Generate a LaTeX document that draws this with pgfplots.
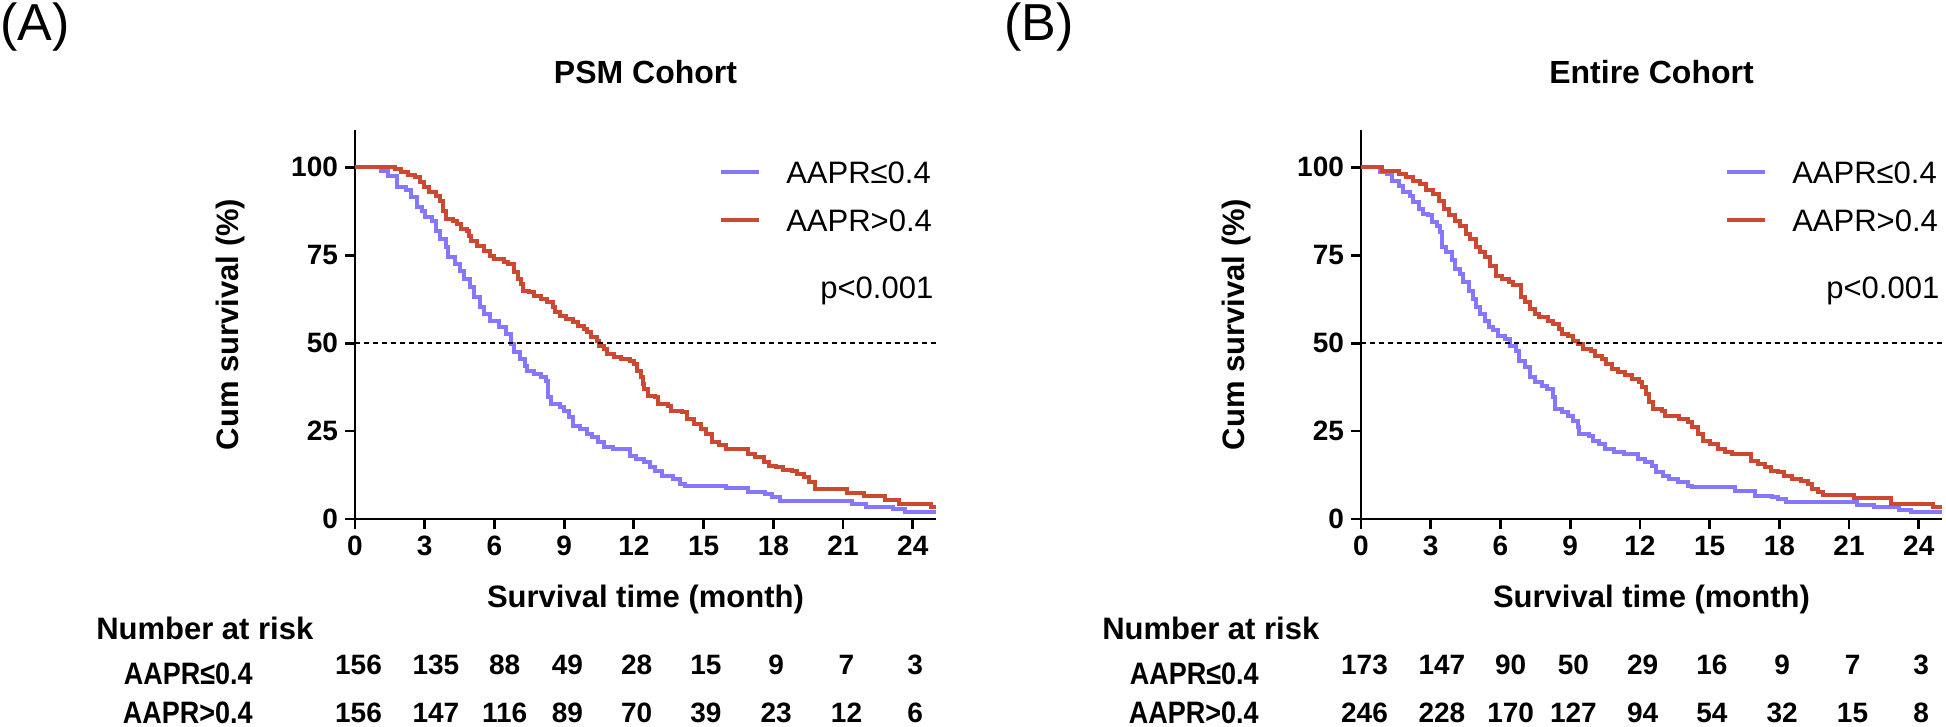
\documentclass[border=0pt]{standalone}
\usepackage{fontspec}
\setmainfont{Liberation Sans}
\usepackage{graphicx}
\usepackage{pgfplots}
\pgfplotsset{compat=1.18}
\definecolor{cblue}{RGB}{133,119,255}
\definecolor{cred}{RGB}{205,72,48}
\pgfplotsset{
  kmaxis/.style={
    scale only axis, width=290.5pt, height=194.5pt,
    xmin=0, xmax=25, ymin=0, ymax=110.6,
    axis x line*=bottom, axis y line*=left,
    axis line style={line width=1.4pt, -},
    xtick={0,3,...,24}, ytick={0,25,50,75,100},
    tick align=outside, major tick length=5pt,
    every tick/.style={line width=1.4pt, black},
    tick label style={font=\fontsize{14}{16}\selectfont\bfseries},
    /pgf/number format/assume math mode=true,
    clip=false,
    every axis title shift=0pt,
    title style={font=\fontsize{16}{19}\selectfont\bfseries, at={(axis description cs:0.5,1.149)}, anchor=center},
    xlabel style={font=\fontsize{15.5}{18}\selectfont\bfseries, at={(axis description cs:0.5,-0.2057)}, anchor=center},
    ylabel style={font=\fontsize{15.5}{18}\selectfont\bfseries, at={(axis description cs:-0.215,0.5)}, anchor=center},
    xlabel={Survival time (month)}, ylabel={Cum survival (\%)},
    legend style={at={(axis description cs:0.627,0.924)}, anchor=north west, draw=none, fill=none,
      inner sep=0pt, outer sep=0pt, font=\fontsize{15.5}{18}\selectfont, row sep=10pt,
      nodes={inner sep=0pt, text height=12pt, text depth=2pt},
      /tikz/every odd column/.append style={column sep=12.5pt}},
    legend cell align=left,
    legend image code/.code={\draw[#1, line width=2pt] (0pt,0.6pt) -- (19pt,0.6pt);},
  },
  risk/.style={draw=none, mark=none, forget plot, nodes near coords, point meta=explicit symbolic,
    every node near coord/.append style={anchor=center, text=black, inner sep=0pt, font=\fontsize{14}{16}\selectfont\bfseries}},
  kmline/.style={const plot, line width=2pt},
}
\newcommand{\risklabels}{%
  \node[anchor=west, inner sep=0pt, font=\fontsize{15.5}{18}\selectfont\bfseries] at (axis cs:-11.15,-31.0) {Number at risk};
  \node[anchor=east, inner sep=0pt, font=\fontsize{15.5}{18}\selectfont\bfseries] at (axis cs:-4.39,-44.1) {\scalebox{0.87}[1]{AAPR≤0.4}};
  \node[anchor=east, inner sep=0pt, font=\fontsize{15.5}{18}\selectfont\bfseries] at (axis cs:-4.39,-55.2) {\scalebox{0.87}[1]{AAPR>0.4}};
  \node[anchor=base east, inner sep=0pt, font=\fontsize{15.5}{18}\selectfont] at (axis cs:24.9,62.7) {p<0.001};
}
\begin{document}
\begin{tikzpicture}
\useasboundingbox (0pt,0pt) rectangle (973pt,363.5pt);
\node[anchor=north west, inner sep=0pt, font=\fontsize{26}{30}\selectfont] at (0pt,362.5pt) {(A)};
\node[anchor=north west, inner sep=0pt, font=\fontsize{26}{30}\selectfont] at (502pt,362.5pt) {(B)};

% ---------------- Panel A ----------------
\begin{axis}[kmaxis, at={(177.5pt,104pt)}, anchor=south west, title={PSM Cohort}]
\addplot[kmline, cblue] coordinates {
(0,100)(0.8,100)(1.1,99)(1.4,97.6)(1.8,94.3)(2.2,93.4)(2.4,91.5)(2.65,88.6)(2.9,87.7)(3.0,85.8)(3.3,84.8)(3.5,82)(3.65,79.6)(3.9,77.3)(4.0,74.4)(4.3,72.5)(4.5,70.6)(4.7,68.2)(4.95,65.9)(5.1,63)(5.4,60.2)(5.55,58.3)(5.8,56.4)(6.2,54.5)(6.5,52.6)(6.7,49.8)(6.85,47.4)(7.1,45.5)(7.3,43.6)(7.4,42.2)(7.7,41.2)(8.0,40.3)(8.2,39.3)(8.3,34.6)(8.45,32.7)(8.8,31.8)(9.0,30.8)(9.2,28.9)(9.4,26.5)(9.7,25.6)(10.0,24.2)(10.2,23.2)(10.45,21.8)(10.7,20.4)(11.1,19.9)(11.85,18)(12.1,17)(12.45,16.1)(12.7,14.7)(12.9,13.7)(13.2,12.3)(13.7,11.4)(14.0,10)(14.2,9.5)(15.95,8.8)(16.9,7.6)(17.65,7.1)(17.95,6.2)(18.3,5.2)(21.4,4.3)(22.0,3.5)(23.15,2.8)(23.65,2.0)(25,2.0)};
\addlegendentry{AAPR≤0.4}
\addplot[kmline, cred] coordinates {
(0,100)(1.7,99.5)(2.0,98.6)(2.3,97.9)(2.6,97.2)(2.8,95.7)(2.95,94.3)(3.2,92.9)(3.5,91.9)(3.65,90.5)(3.8,87.7)(3.9,85.3)(4.2,84.8)(4.4,83.9)(4.55,82.5)(4.8,82)(4.9,80.6)(5.0,79.1)(5.25,77.7)(5.55,76.3)(5.8,74.9)(6.0,73.9)(6.4,73)(6.6,72.5)(6.85,70.1)(7.0,68.2)(7.15,66.8)(7.25,64.9)(7.5,64.5)(7.7,63.5)(8.0,62.6)(8.25,61.6)(8.5,60.2)(8.6,58.8)(8.8,57.8)(9.1,56.9)(9.4,55.9)(9.6,55)(9.85,54)(10.0,53.1)(10.15,51.7)(10.4,50.7)(10.5,49.3)(10.7,48.3)(10.85,46.9)(11.15,46)(11.45,45.5)(11.85,45)(12.0,44.1)(12.15,42.2)(12.3,40.3)(12.4,38.4)(12.45,37)(12.6,35.1)(12.9,34.6)(13.05,32.7)(13.45,32.2)(13.6,30.8)(14.05,30.3)(14.3,28.4)(14.6,27)(14.9,25.6)(15.1,24.2)(15.35,21.8)(15.65,20.9)(15.95,19.9)(16.9,18.5)(17.2,17.5)(17.6,16.1)(17.8,15.2)(18.1,14.7)(18.4,14)(18.8,13.7)(19.0,12.8)(19.3,11.8)(19.55,10.4)(19.8,8.5)(21.15,7.3)(21.9,6.6)(22.8,5.5)(23.4,4.3)(24.8,3.4)(25,3.4)};
\addlegendentry{AAPR>0.4}
\addplot[black, line width=0.75pt, dash pattern=on 2.5pt off 2pt, forget plot] coordinates {(0,50)(25,50)};
\addplot[risk] coordinates {(0.15,-41.5)[156] (3.48,-41.5)[135] (6.44,-41.5)[88] (9.14,-41.5)[49] (12.12,-41.5)[28] (15.1,-41.5)[15] (18.12,-41.5)[9] (21.15,-41.5)[7] (24.1,-41.5)[3]};
\addplot[risk] coordinates {(0.15,-55.2)[156] (3.48,-55.2)[147] (6.44,-55.2)[116] (9.14,-55.2)[89] (12.12,-55.2)[70] (15.1,-55.2)[39] (18.12,-55.2)[23] (21.15,-55.2)[12] (24.1,-55.2)[6]};
\risklabels
\end{axis}

% ---------------- Panel B ----------------
\begin{axis}[kmaxis, at={(680.5pt,104pt)}, anchor=south west, title={Entire Cohort}]
\addplot[kmline, cblue] coordinates {
(0,100)(0.8,98.6)(1.1,98.1)(1.35,96.2)(1.65,94.8)(1.8,92.9)(2.1,91.9)(2.25,90)(2.5,88.2)(2.65,86.7)(2.9,86.3)(3.05,84.4)(3.25,83.4)(3.4,81.5)(3.5,77.3)(3.65,75.8)(3.9,73.5)(4.05,71.1)(4.25,69.7)(4.4,67.3)(4.65,64.9)(4.8,62.6)(4.95,60.2)(5.1,58.3)(5.35,56.4)(5.5,54.5)(5.7,53.6)(5.9,52.1)(6.2,51.2)(6.4,49.3)(6.65,47.9)(6.8,45)(7.05,43.1)(7.25,40.3)(7.5,38.9)(7.8,37.9)(8.0,37)(8.25,34.6)(8.35,31.3)(8.65,30.3)(8.9,29.4)(9.1,28)(9.35,26.1)(9.4,24.2)(9.8,23.7)(10.0,22.3)(10.25,21.3)(10.5,19.9)(10.9,19)(11.3,18.5)(11.9,17.1)(12.2,16.1)(12.5,15.2)(12.7,13.3)(13.0,12.3)(13.25,11.4)(13.65,10.4)(14.05,9.5)(14.25,9)(16.1,8.1)(16.95,6.6)(17.7,6.2)(17.95,5.7)(18.3,4.8)(21.35,4.0)(22.07,3.3)(23.15,2.6)(23.65,1.9)(25,1.9)};
\addlegendentry{AAPR≤0.4}
\addplot[kmline, cred] coordinates {
(0,100)(0.9,99)(1.25,98.9)(1.65,98.1)(1.95,97.2)(2.25,96.2)(2.55,95.3)(2.8,93.4)(3.1,92.4)(3.35,90.5)(3.55,88.2)(3.8,86.3)(4.05,84.8)(4.25,83.4)(4.5,81)(4.7,79.6)(4.95,77.3)(5.1,75.8)(5.35,74.4)(5.55,72)(5.8,69.2)(6.05,68.2)(6.35,67.3)(6.55,66.4)(6.9,63)(7.05,61.6)(7.25,59.7)(7.5,58.3)(7.65,57.3)(8.05,56.4)(8.25,55.5)(8.5,54)(8.65,52.6)(8.9,52.1)(9.1,50.7)(9.35,49.8)(9.55,48.3)(9.9,47.9)(10.05,46.4)(10.35,45.5)(10.55,44.1)(10.8,42.7)(11.05,41.7)(11.35,40.8)(11.65,39.8)(11.95,38.9)(12.1,37.4)(12.25,35.5)(12.4,33.2)(12.55,31.3)(12.95,30.8)(13.1,29.4)(13.7,28.4)(14.05,27.5)(14.25,26.1)(14.5,24.2)(14.7,22.3)(15.0,21.3)(15.35,19.9)(15.65,19)(15.95,18.5)(16.8,16.6)(17.1,15.6)(17.4,14.7)(17.65,13.7)(17.95,13.3)(18.2,12.3)(18.55,11.4)(18.95,10.9)(19.25,10)(19.4,8.5)(19.65,7.6)(19.9,6.8)(21.2,5.9)(22.8,4.3)(24.6,3.3)(25,3.3)};
\addlegendentry{AAPR>0.4}
\addplot[black, line width=0.75pt, dash pattern=on 2.5pt off 2pt, forget plot] coordinates {(0,50)(25,50)};
\addplot[risk] coordinates {(0.15,-41.5)[173] (3.48,-41.5)[147] (6.44,-41.5)[90] (9.14,-41.5)[50] (12.12,-41.5)[29] (15.1,-41.5)[16] (18.12,-41.5)[9] (21.15,-41.5)[7] (24.1,-41.5)[3]};
\addplot[risk] coordinates {(0.15,-55.2)[246] (3.48,-55.2)[228] (6.44,-55.2)[170] (9.14,-55.2)[127] (12.12,-55.2)[94] (15.1,-55.2)[54] (18.12,-55.2)[32] (21.15,-55.2)[15] (24.1,-55.2)[8]};
\risklabels
\end{axis}
\end{tikzpicture}
\end{document}
